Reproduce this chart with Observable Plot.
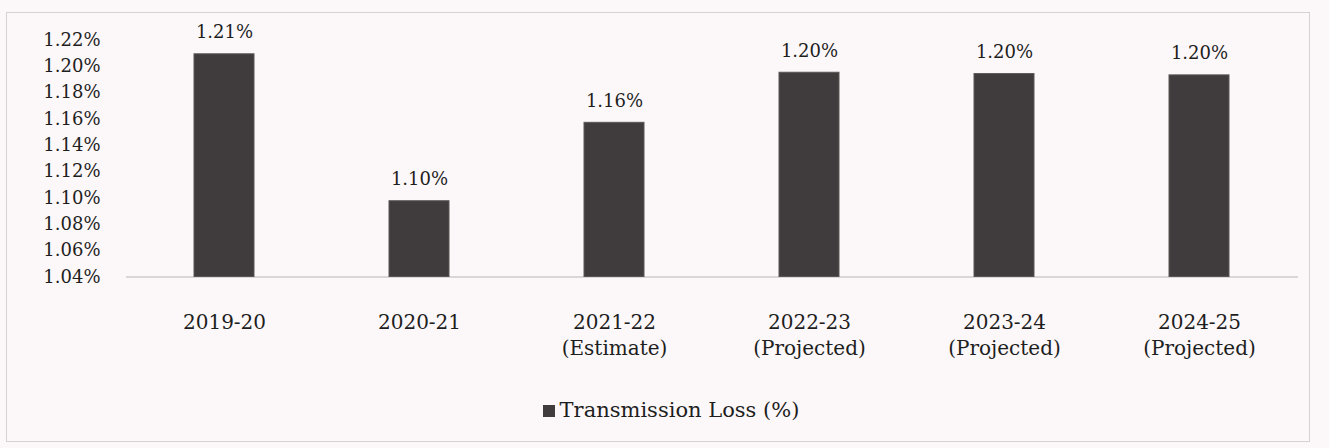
<!DOCTYPE html>
<html>
<head>
<meta charset="utf-8">
<script src="https://cdn.jsdelivr.net/npm/d3@7"></script>
<script src="https://cdn.jsdelivr.net/npm/@observablehq/plot@0.6"></script>
<style>
  html, body { margin: 0; padding: 0; background: #fcf8f9; }
  body { width: 1329px; height: 448px; position: relative; overflow: hidden; font-family: "DejaVu Serif", "Liberation Serif", serif; color: #1e1e1e; }
  #frame { position: absolute; left: 6px; top: 12px; width: 1304px; height: 430px; border: 1px solid #d6d1d2; box-sizing: border-box; }
  #chart { position: absolute; left: 0; top: 0; }
  #legend { position: absolute; left: 0; top: 397px; width: 1329px; display: flex; justify-content: center; align-items: center; font-size: 21px; line-height: 26px; padding-left: 13px; box-sizing: border-box; }
  #legend .sw { width: 12px; height: 12px; background: #403c3d; margin-right: 5px; margin-top: 2px; }
</style>
</head>
<body>
<div id="frame"></div>
<div id="chart"></div>
<div id="legend"><span class="sw"></span><span class="lt"></span></div>
<script>
const categories = ["2019-20", "2020-21", "2021-22\n(Estimate)", "2022-23\n(Projected)", "2023-24\n(Projected)", "2024-25\n(Projected)"];
const values = [1.209, 1.0975, 1.157, 1.195, 1.194, 1.193];
const valueLabels = ["1.21%", "1.10%", "1.16%", "1.20%", "1.20%", "1.20%"];
const yTicks = [1.04, 1.06, 1.08, 1.10, 1.12, 1.14, 1.16, 1.18, 1.20, 1.22];
const seriesName = "Transmission Loss (%)";

const data = categories.map((c, i) => ({ cat: c, v: values[i], label: valueLabels[i] }));

const chart = Plot.plot({
  width: 1329,
  height: 375,
  marginLeft: 126,
  marginRight: 31,
  marginTop: 39.3,
  marginBottom: 98.5,
  style: { fontFamily: "DejaVu Serif, Liberation Serif, serif", fontSize: "18px", background: "transparent", color: "#1e1e1e" },
  x: { domain: categories, paddingInner: 0.69, paddingOuter: 0.345, label: null },
  y: { domain: [1.04, 1.22], label: null },
  marks: [
    Plot.ruleY([1.04], { stroke: "#cfcaca", strokeWidth: 1.5 }),
    Plot.barY(data, { x: "cat", y1: () => 1.04, y2: "v", fill: "#403c3d", stroke: "#5a5657", strokeWidth: 1 }),
    Plot.text(data, { x: "cat", y: "v", text: "label", dy: -22, fontSize: 18, fill: "#1e1e1e", lineAnchor: "middle" }),
    Plot.axisY({ ticks: yTicks, tickFormat: d => d.toFixed(2) + "%", tickSize: 0, tickPadding: 26, fontSize: 18, fill: "#1e1e1e" }),
    Plot.axisX({ tickSize: 0, tickPadding: 34, fontSize: 20, lineHeight: 1.3, fill: "#1e1e1e" })
  ]
});
document.getElementById("chart").appendChild(chart);
document.querySelector("#legend .lt").textContent = seriesName;
</script>
</body>
</html>
